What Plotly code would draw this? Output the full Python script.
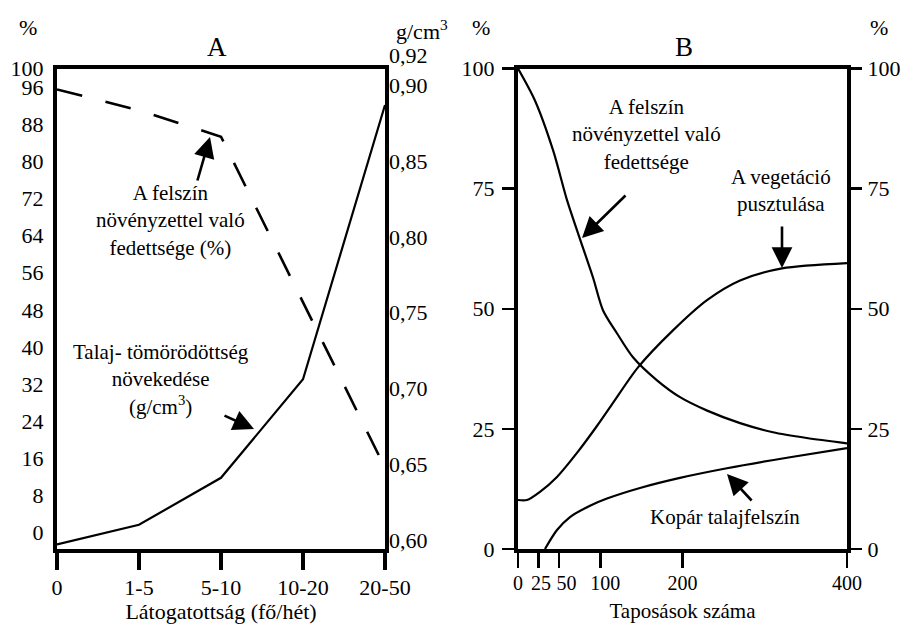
import plotly.graph_objects as go

# ---------------- Panel A data ----------------
visit_cats = ["0", "1-5", "5-10", "10-20", "20-50"]
cover_a = [95.5, 91.0, 85.3, 49.5, 14.0]          # % (left axis, dashed)
compaction = [0.597, 0.610, 0.641, 0.706, 0.887]   # g/cm3 (right axis, solid)
pct_ticks_a = [0, 8, 16, 24, 32, 40, 48, 56, 64, 72, 80, 88, 96, 100]
dens_ticks = [0.60, 0.65, 0.70, 0.75, 0.80, 0.85, 0.90, 0.92]
dens_labels = ["0,60", "0,65", "0,70", "0,75", "0,80", "0,85", "0,90", "0,92"]

# ---------------- Panel B data ----------------
cover_b_x = [0, 20.7, 42.6, 59.6, 73.0, 91.2, 103.3, 120.3, 139.8, 169, 197, 230, 270, 310, 351, 400]
cover_b_y = [100, 93.3, 83.0, 72.6, 65.7, 56.5, 49.7, 44.9, 39.9, 35.1, 31.6, 28.8, 26.2, 24.3, 23.1, 22.0]
veg_x = [0, 10.9, 26.7, 47.4, 71.7, 96, 115.5, 145.9, 188.4, 229.8, 270, 321, 400]
veg_y = [10.2, 10.2, 11.9, 15.0, 20.0, 25.6, 30.4, 37.8, 45.5, 51.8, 55.9, 58.4, 59.5]
bare_x = [32.8, 47.4, 63.2, 87.5, 108.2, 148.3, 196.9, 254, 330.7, 400]
bare_y = [0, 3.95, 6.65, 9.0, 10.5, 12.7, 14.8, 16.8, 19.1, 21.0]
trample_ticks = [0, 25, 50, 100, 200, 400]
trample_labels = ["0", "25", "50", "100", "200", "400"]
pct_ticks_b = [0, 25, 50, 75, 100]

FONT = "Liberation Serif"
W, H = 900, 624
NBSP = "\u00a0"
# leading non-breaking spaces keep the crowded small tick labels apart, as in the drawing
label_pad = {"25": 1, "50": 3, "100": 2}
trample_text = [NBSP * label_pad.get(t, 0) + t for t in trample_labels]


def X(px):
    return px / W


def Y(py):
    return 1 - py / H


fig = go.Figure()

fig.add_trace(go.Scatter(x=visit_cats, y=cover_a, xaxis="x", yaxis="y", mode="lines",
                         line=dict(color="black", width=2.6, dash="26px,24px"), hoverinfo="skip"))
fig.add_trace(go.Scatter(x=visit_cats, y=compaction, xaxis="x", yaxis="y2", mode="lines",
                         line=dict(color="black", width=2.2), hoverinfo="skip"))

fig.add_trace(go.Scatter(x=cover_b_x, y=cover_b_y, xaxis="x2", yaxis="y3", mode="lines",
                         line=dict(color="black", width=2.2, shape="spline", smoothing=0.8),
                         hoverinfo="skip"))
fig.add_trace(go.Scatter(x=veg_x, y=veg_y, xaxis="x2", yaxis="y4", mode="lines",
                         line=dict(color="black", width=2.2, shape="spline", smoothing=0.8),
                         hoverinfo="skip"))
fig.add_trace(go.Scatter(x=bare_x, y=bare_y, xaxis="x2", yaxis="y3", mode="lines",
                         line=dict(color="black", width=2.2, shape="spline", smoothing=0.8),
                         hoverinfo="skip"))

tickfont = dict(family=FONT, size=22, color="black")
ydom = [Y(549), Y(68.5)]

fig.update_layout(
    template="none",
    width=W, height=H,
    margin=dict(l=0, r=0, t=0, b=0, autoexpand=False),
    paper_bgcolor="white", plot_bgcolor="rgba(0,0,0,0)",
    showlegend=False,
    font=dict(family=FONT, size=21, color="black"),
    xaxis=dict(domain=[X(57), X(385)], anchor="y", type="category", range=[0, 4],
               automargin=False,
               showline=True, mirror=True, linewidth=4, linecolor="black",
               ticks="outside", ticklen=17, tickwidth=4, tickcolor="black",
               tickfont=tickfont, tickangle=0, ticklabelstandoff=-1,
               showgrid=False, zeroline=False,
               title=dict(text="Látogatottság (fő/hét)", font=tickfont, standoff=0)),
    yaxis=dict(domain=ydom, anchor="x", range=[-3.5, 100], automargin=False,
               tickvals=pct_ticks_a, ticks="", tickfont=tickfont, ticklabelstandoff=5,
               showline=True, mirror=True, linewidth=4, linecolor="black",
               showgrid=False, zeroline=False),
    yaxis2=dict(domain=[Y(549), Y(55)], anchor="x", side="right", range=[0.594, 0.92],
                automargin=False,
                tickvals=dens_ticks, ticktext=dens_labels, ticks="", tickfont=tickfont,
                ticklabelstandoff=3, showline=False, showgrid=False, zeroline=False),
    xaxis2=dict(domain=[X(518), X(847)], anchor="y3", range=[0, 400], automargin=False,
                tickvals=trample_ticks, ticktext=trample_text, tickangle=0,
                showline=True, mirror=True, linewidth=4, linecolor="black",
                ticks="outside", ticklen=15, tickwidth=2.5, tickcolor="black",
                tickfont=dict(family=FONT, size=20, color="black"), ticklabelstandoff=-2,
                showgrid=False, zeroline=False,
                title=dict(text="Taposások száma", font=dict(family=FONT, size=21, color="black"),
                           standoff=11)),
    yaxis3=dict(domain=ydom, anchor="x2", range=[0, 100], tickvals=pct_ticks_b,
                automargin=False,
                showline=True, mirror=True, linewidth=4, linecolor="black",
                ticks="outside", ticklen=12, tickwidth=2.5, tickcolor="black",
                tickfont=tickfont, ticklabelstandoff=3,
                showgrid=False, zeroline=False),
    yaxis4=dict(overlaying="y3", anchor="x2", side="right", range=[0, 100], tickvals=pct_ticks_b,
                automargin=False,
                showline=False, ticks="outside", ticklen=14, tickwidth=2.5, tickcolor="black",
                tickfont=tickfont, ticklabelstandoff=1,
                showgrid=False, zeroline=False),
)

txt = dict(xref="paper", yref="paper", showarrow=False, xanchor="center", yanchor="middle",
           font=dict(family=FONT, size=21, color="black"))
annotations = [
    dict(x=X(217), y=Y(47), text="A", font=dict(family=FONT, size=27, color="black")),
    dict(x=X(684), y=Y(47), text="B", font=dict(family=FONT, size=27, color="black")),
    dict(x=X(28), y=Y(28), text="%", font=tickfont),
    dict(x=X(394), y=Y(30), text="g/cm<sup>3</sup>", xanchor="left", font=tickfont),
    dict(x=X(481), y=Y(28), text="%", font=tickfont),
    dict(x=X(879), y=Y(28), text="%", font=tickfont),
    dict(x=X(170), y=Y(220), text="A felszín<br>növényzettel való<br>fedettsége (%)"),
    dict(x=X(161), y=Y(380), text="Talaj- tömörödöttség<br>növekedése<br>(g/cm<sup>3</sup>)"),
    dict(x=X(646), y=Y(134), text="A felszín<br>növényzettel való<br>fedettsége"),
    dict(x=X(781), y=Y(190), text="A vegetáció<br>pusztulása"),
    dict(x=X(725), y=Y(517), text="Kopár talajfelszín"),
]
for a in annotations:
    d = dict(txt)
    d.update(a)
    fig.add_annotation(**d)

arrows = [
    (210, 137, -13, 45),
    (254, 429, -31, -14),
    (582, 238, 45, -44),
    (782, 268, 0, -43),
    (727, 474, 26, 28),
]
for tx, ty, ax, ay in arrows:
    fig.add_annotation(x=X(tx), y=Y(ty), xref="paper", yref="paper", text="",
                       showarrow=True, ax=ax, ay=ay, arrowhead=2, arrowsize=1.6,
                       arrowwidth=2.6, arrowcolor="black", standoff=0)

fig.write_html("out.html", config={"displayModeBar": False, "staticPlot": True},
               post_script="document.body.style.margin='0px';")
